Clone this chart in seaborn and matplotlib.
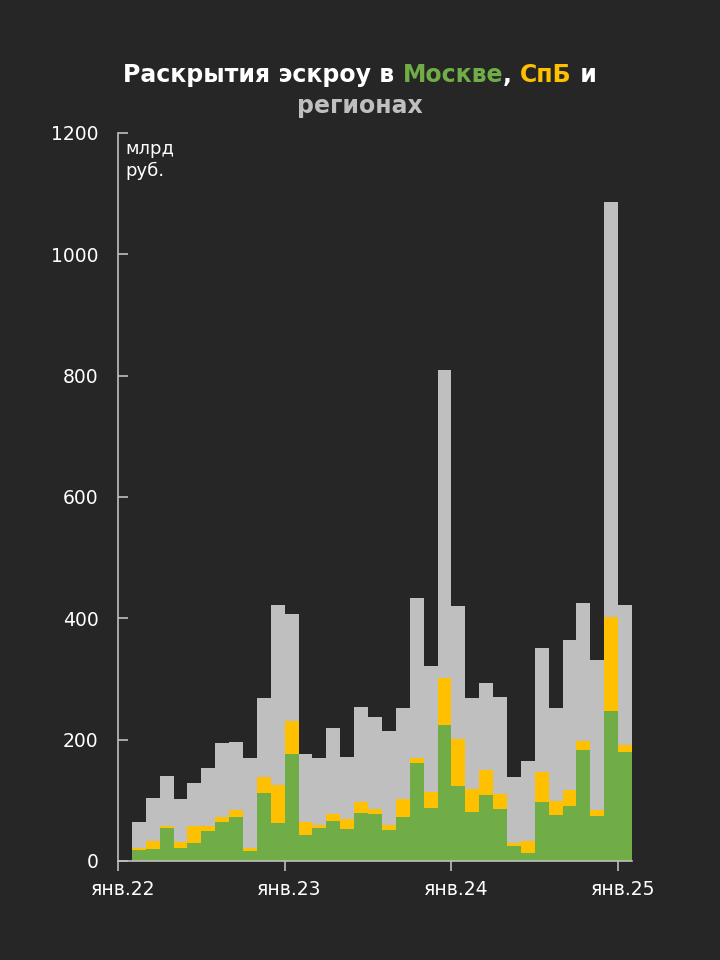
# ===================== IMPORTS =====================
import numpy as np
import pandas as pd
import seaborn as sns
import matplotlib.pyplot as plt

sns.set_style("dark")
plt.rcParams["font.family"] = ["DejaVu Sans"]

# ===================== DATA (млрд руб., фев.22 - янв.25) =====================
months = pd.date_range("2022-02-01", "2025-01-01", freq="MS").strftime("%m.%y").tolist()

moscow = [18, 20, 54, 22, 30, 49, 65, 73, 16, 112, 63, 176,
          43, 54, 66, 53, 79, 78, 51, 73, 162, 88, 224, 124,
          81, 108, 85, 25, 13, 98, 76, 90, 183, 75, 248, 180]
spb = [4, 13, 4, 9, 28, 8, 8, 11, 5, 27, 62, 55,
       21, 5, 11, 17, 19, 7, 9, 29, 7, 26, 77, 77,
       38, 42, 26, 5, 20, 49, 23, 27, 14, 9, 154, 11]
regions = [42, 71, 82, 71, 70, 96, 122, 112, 149, 130, 297, 176,
           112, 111, 142, 101, 156, 152, 155, 151, 265, 207, 509, 220,
           149, 143, 160, 108, 132, 204, 154, 248, 228, 248, 684, 231]

year_labels = ["янв.22", "янв.23", "янв.24", "янв.25"]
y_ticks = [0, 200, 400, 600, 800, 1000, 1200]

df = pd.DataFrame({"month": months, "moscow": moscow, "spb": spb, "regions": regions})
df["msk_spb"] = df["moscow"] + df["spb"]
df["total"] = df["msk_spb"] + df["regions"]

# ===================== COLORS =====================
bg = "#262626"
green = "#70AD47"
yellow = "#FFC000"
gray = "#BFBFBF"
axis_col = "#BFBFBF"

# ===================== PLOT =====================
fig = plt.figure(figsize=(7.2, 9.6), dpi=100, facecolor=bg)
ax = fig.add_axes([118 / 720, 99 / 960, 514 / 720, 728 / 960])
ax.set_facecolor(bg)

for col, c in [("total", gray), ("msk_spb", yellow), ("moscow", green)]:
    sns.barplot(data=df, x="month", y=col, color=c, width=1, saturation=1,
                linewidth=0, edgecolor="none", ax=ax)

ax.set_xlim(-1.5, len(months) - 0.5)
ax.set_ylim(0, 1200)
ax.grid(False)
ax.set_xlabel("")
ax.set_ylabel("")

for s in ["top", "right"]:
    ax.spines[s].set_visible(False)
for s in ["left", "bottom"]:
    ax.spines[s].set_color(axis_col)
    ax.spines[s].set_linewidth(1.2)

# y axis
ax.set_yticks(y_ticks)
ax.set_yticklabels([str(v) for v in y_ticks])
ax.tick_params(axis="y", direction="in", length=7, width=1.2, color=axis_col,
               labelcolor="white", labelsize=13.5, pad=14, left=True)

# x axis: january tick marks between bars, labels slightly to the right
jan_pos = [-1.5, 10.5, 22.5, 34.5]
ax.set_xticks([p + 0.35 for p in jan_pos])
ax.set_xticklabels(year_labels)
ax.set_xticks(jan_pos, minor=True)
ax.tick_params(axis="x", which="major", length=0, labelcolor="white",
               labelsize=13.5, pad=14)
ax.tick_params(axis="x", which="minor", direction="out", length=7, width=1.2,
               color=axis_col, bottom=True)

# unit label
ax.text(125 / 720, 1 - 160 / 960, "млрд\nруб.", transform=fig.transFigure,
        color="white", fontsize=13, va="center", ha="left", linespacing=1.3)

# ===================== MULTI-COLOR TITLE =====================
renderer = fig.canvas.get_renderer()
parts = [("Раскрытия эскроу в ", "white"), ("Москве", green), (", ", "white"),
         ("СпБ", yellow), (" и", "white")]
title_size = 17
widths = []
for txt, c in parts:
    t = fig.text(0, 0, txt, fontsize=title_size, fontweight="bold")
    widths.append(t.get_window_extent(renderer).width)
    t.remove()
x = 360 - sum(widths) / 2
for (txt, c), w in zip(parts, widths):
    fig.text(x / 720, 1 - 75 / 960, txt, fontsize=title_size, fontweight="bold",
             color=c, ha="left", va="center")
    x += w
fig.text(0.5, 1 - 106 / 960, "регионах", fontsize=title_size, fontweight="bold",
         color=gray, ha="center", va="center")

fig.savefig("out.png", dpi=100, facecolor=bg)
